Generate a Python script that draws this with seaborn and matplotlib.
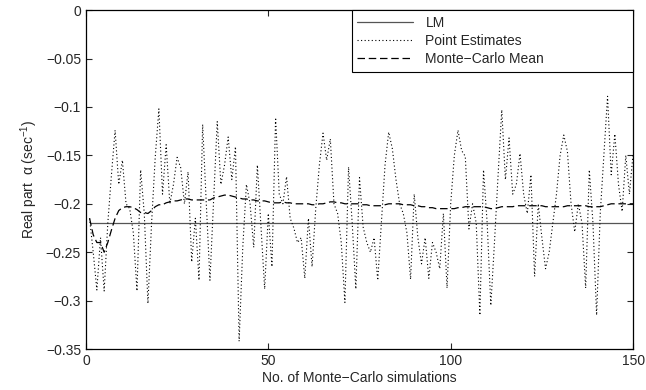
import numpy as np
import pandas as pd
import seaborn as sns
import matplotlib
matplotlib.use("Agg")
from matplotlib import pyplot as plt

# values
point_estimates = [
    -0.215, -0.250, -0.289, -0.235, -0.290, -0.220, -0.170, -0.124, -0.180, -0.155,
    -0.200, -0.205, -0.230, -0.290, -0.165, -0.210, -0.303, -0.220, -0.152, -0.102,
    -0.190, -0.139, -0.200, -0.180, -0.152, -0.163, -0.200, -0.167, -0.260, -0.215,
    -0.279, -0.118, -0.200, -0.279, -0.196, -0.115, -0.180, -0.160, -0.131, -0.175,
    -0.141, -0.342, -0.245, -0.180, -0.200, -0.245, -0.160, -0.224, -0.288, -0.210,
    -0.265, -0.111, -0.190, -0.200, -0.172, -0.215, -0.225, -0.240, -0.235, -0.277,
    -0.215, -0.265, -0.205, -0.160, -0.127, -0.155, -0.133, -0.200, -0.210, -0.240,
    -0.302, -0.162, -0.220, -0.288, -0.173, -0.224, -0.240, -0.250, -0.235, -0.279,
    -0.220, -0.160, -0.126, -0.143, -0.175, -0.200, -0.210, -0.230, -0.278, -0.190,
    -0.235, -0.262, -0.235, -0.277, -0.240, -0.250, -0.267, -0.210, -0.287, -0.200,
    -0.150, -0.124, -0.145, -0.151, -0.226, -0.200, -0.220, -0.315, -0.165, -0.220,
    -0.305, -0.240, -0.170, -0.103, -0.175, -0.132, -0.190, -0.180, -0.148, -0.190,
    -0.210, -0.170, -0.275, -0.200, -0.235, -0.267, -0.250, -0.220, -0.190, -0.150,
    -0.129, -0.146, -0.200, -0.229, -0.200, -0.220, -0.287, -0.165, -0.220, -0.315,
    -0.210, -0.150, -0.089, -0.170, -0.128, -0.180, -0.208, -0.150, -0.190, -0.148,
]

mc_mean = [
    -0.215, -0.232, -0.240, -0.240, -0.250, -0.240, -0.227, -0.215, -0.207, -0.204,
    -0.203, -0.203, -0.204, -0.206, -0.209, -0.209, -0.210, -0.207, -0.203, -0.201,
    -0.201, -0.199, -0.198, -0.197, -0.197, -0.196, -0.195, -0.195, -0.196, -0.196,
    -0.196, -0.196, -0.196, -0.196, -0.194, -0.193, -0.192, -0.191, -0.191, -0.192,
    -0.193, -0.194, -0.195, -0.195, -0.196, -0.196, -0.197, -0.197, -0.197, -0.198,
    -0.199, -0.199, -0.199, -0.198, -0.199, -0.199, -0.200, -0.200, -0.200, -0.200,
    -0.200, -0.201, -0.201, -0.200, -0.200, -0.199, -0.198, -0.198, -0.199, -0.199,
    -0.200, -0.200, -0.200, -0.200, -0.200, -0.201, -0.201, -0.202, -0.202, -0.202,
    -0.202, -0.201, -0.200, -0.200, -0.200, -0.200, -0.201, -0.201, -0.201, -0.202,
    -0.202, -0.203, -0.203, -0.204, -0.204, -0.205, -0.205, -0.205, -0.205, -0.205,
    -0.205, -0.204, -0.204, -0.203, -0.203, -0.203, -0.203, -0.203, -0.203, -0.204,
    -0.205, -0.205, -0.204, -0.203, -0.203, -0.203, -0.203, -0.202, -0.202, -0.202,
    -0.202, -0.202, -0.202, -0.202, -0.202, -0.203, -0.203, -0.203, -0.203, -0.203,
    -0.203, -0.202, -0.202, -0.202, -0.202, -0.202, -0.202, -0.203, -0.203, -0.203,
    -0.203, -0.202, -0.201, -0.200, -0.200, -0.200, -0.200, -0.200, -0.200, -0.200,
]

lm_value = -0.22
x_ticks = [0, 50, 100, 150]
y_ticks = [0, -0.05, -0.1, -0.15, -0.2, -0.25, -0.3, -0.35]

n = len(point_estimates)
sims = np.arange(1, n + 1)
df = pd.DataFrame({
    "sim": np.concatenate([sims, sims, sims]),
    "value": np.concatenate([[lm_value] * n, point_estimates, mc_mean]),
    "series": ["LM"] * n + ["Point Estimates"] * n + ["Monte-Carlo Mean"] * n,
})

sns.set_style("ticks")
plt.rcParams['font.family'] = ['Liberation Sans', 'DejaVu Sans']
plt.rcParams['mathtext.fontset'] = 'custom'
plt.rcParams['mathtext.rm'] = 'Liberation Sans'

fig = plt.figure(figsize=(6.46, 3.90), dpi=100)
ax = fig.add_axes([0.133, 0.105, 0.847, 0.869])

sns.lineplot(data=df, x="sim", y="value", hue="series", style="series",
             palette={"LM": "#555555", "Point Estimates": "black",
                      "Monte-Carlo Mean": "black"},
             dashes={"LM": "", "Point Estimates": (1, 2.2),
                     "Monte-Carlo Mean": (6, 3)},
             size="series",
             sizes={"LM": 0.9, "Point Estimates": 0.8, "Monte-Carlo Mean": 0.9},
             ax=ax)

ax.set_xlim(0, 150)
ax.set_ylim(-0.35, 0)
ax.set_xticks(x_ticks)
ax.set_yticks(y_ticks)
ax.set_yticklabels(["0" if t == 0 else f"{t:g}".replace("-", "\u2212") for t in y_ticks])
ax.tick_params(direction="in", top=True, right=True, labelsize=10, length=4, width=0.8)
for s in ax.spines.values():
    s.set_linewidth(0.9)
    s.set_color("black")

ax.set_xlabel("No. of Monte\u2212Carlo simulations", fontsize=10, labelpad=2)
ax.set_ylabel("Real part  \u03b1 (sec$\\mathregular{^{-1}}$)", fontsize=10, labelpad=4)

leg = ax.legend(loc="upper right", fontsize=10, frameon=True, fancybox=False,
                bbox_to_anchor=(0.486, 0.817, 0.514, 0.183), mode="expand",
                borderaxespad=0, handlelength=4.0, handletextpad=0.9,
                borderpad=0.4, labelspacing=0.3, edgecolor="black", framealpha=1)
leg.get_frame().set_linewidth(0.8)
for t in leg.get_texts():
    t.set_text(t.get_text().replace("-", "\u2212"))

fig.savefig("out.png", dpi=100)
